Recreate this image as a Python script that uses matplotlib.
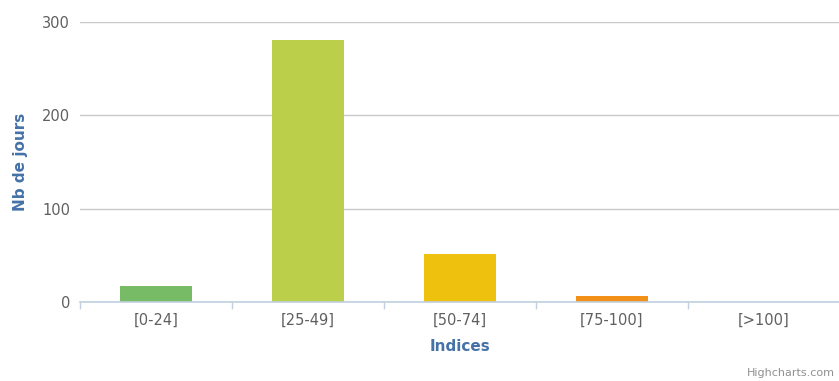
import numpy as np
import matplotlib
matplotlib.use("Agg")
from matplotlib import pyplot as plt

# days per index class
categories = ["[0-24]", "[25-49]", "[50-74]", "[75-100]", "[>100]"]
days = [17, 281, 51, 6, 0]
colors = ["#77bb66", "#bbcf4a", "#eec10e", "#f39018", "#e8413b"]

plt.rcParams["font.family"] = ["DejaVu Sans"]

fig = plt.figure(figsize=(8.39, 3.81), dpi=100)
ax = fig.add_axes([80 / 839, 1 - 302 / 381, 760 / 839, 280 / 381])

x = np.arange(len(categories))
ax.bar(x, days, width=0.48, color=colors, zorder=3)

ax.set_xlim(-0.5, len(categories) - 0.5)
ax.set_ylim(0, 300)
ax.set_yticks([0, 100, 200, 300])
ax.yaxis.grid(True, color="#c8c8c8", linewidth=1, zorder=0)
ax.tick_params(axis="y", length=0, pad=7, labelsize=10.5, labelcolor="#606060")

# category labels centred, tick marks on the boundaries
ax.set_xticks(x)
ax.set_xticklabels(categories)
ax.set_xticks(np.arange(len(categories) + 1) - 0.5, minor=True)
ax.tick_params(axis="x", which="major", length=0, pad=8, labelsize=10.5, labelcolor="#606060")
ax.tick_params(axis="x", which="minor", length=5, color="#c0d0e0", width=1)

for side in ["top", "right", "left"]:
    ax.spines[side].set_visible(False)
ax.spines["bottom"].set_color("#c0d0e0")
ax.spines["bottom"].set_linewidth(1.2)
ax.spines["bottom"].set_zorder(4)

ax.set_xlabel("Indices", color="#4572a7", fontsize=11, fontweight="bold", labelpad=8)
ax.set_ylabel("Nb de jours", color="#4572a7", fontsize=11, fontweight="bold", labelpad=10)

fig.text(835 / 839, 1 - 373 / 381, "Highcharts.com", ha="right", va="center",
         fontsize=8, color="#909090")

fig.savefig("out.png", dpi=100)
